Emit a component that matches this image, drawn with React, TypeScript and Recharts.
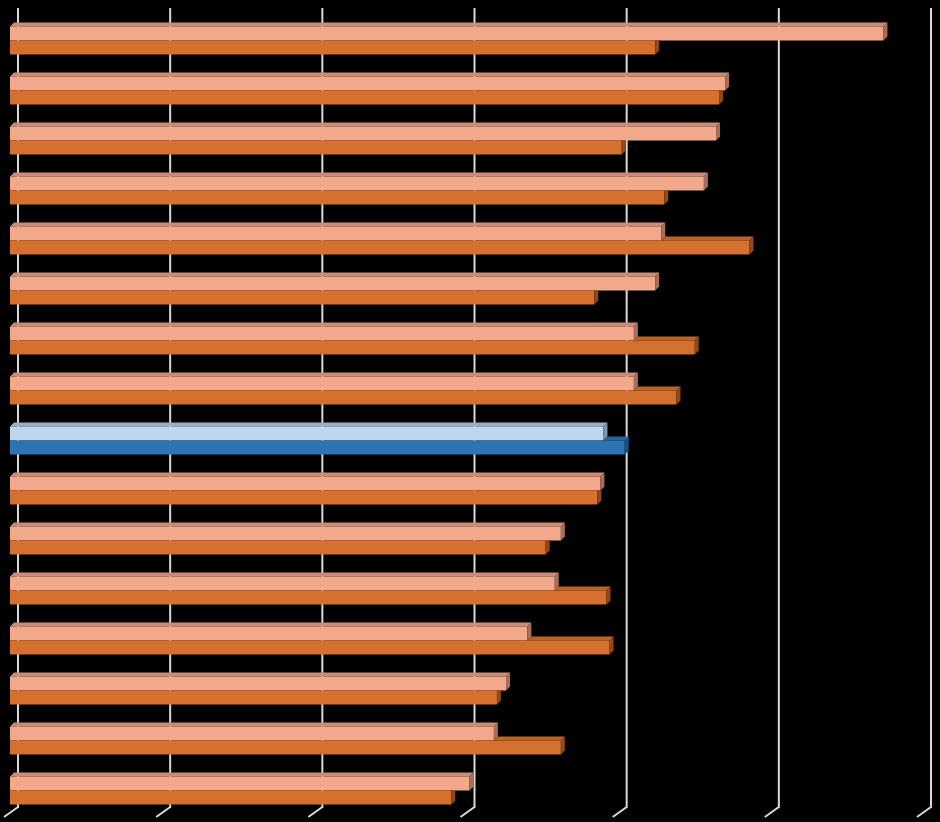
import { BarChart, Bar, XAxis, YAxis, CartesianGrid } from 'recharts'

const categories = [
  'A', 'B', 'C', 'D', 'E', 'F', 'G', 'H', 'I', 'J', 'K', 'L', 'M', 'N', 'O', 'P',
]
const lightValues = [28.7, 23.5, 23.2, 22.8, 21.4, 21.2, 20.5, 20.5, 19.5, 19.4, 18.1, 17.9, 17.0, 16.3, 15.9, 15.1]
const darkValues = [21.2, 23.3, 20.1, 21.5, 24.3, 19.2, 22.5, 21.9, 20.2, 19.3, 17.6, 19.6, 19.7, 16.0, 18.1, 14.5]
const highlighted = ['I']
const xTicks = [0, 5, 10, 15, 20, 25, 30]

const data = categories.map((name, i) => ({
  name,
  light: lightValues[i],
  dark: darkValues[i],
  hl: highlighted.includes(name),
}))

// front face is shifted off the back wall (3D depth)
const DX = -8
const DY = 7.5
const D = 4

const palette = {
  light: { front: '#F2A98B', top: '#C98E78', side: '#A8705C' },
  dark: { front: '#D5702E', top: '#B8652C', side: '#8F4A1C' },
  hlLight: { front: '#BDD7EE', top: '#9CAFC2', side: '#8194A6' },
  hlDark: { front: '#2E74B5', top: '#28659E', side: '#1D4F7E' },
}

function Bar3D(props: any) {
  const { x, y, width, height, payload, series } = props
  if (!width || width <= 0) return null
  const c = payload.hl
    ? series === 'light' ? palette.hlLight : palette.hlDark
    : series === 'light' ? palette.light : palette.dark
  const fx = x + DX
  const fy = y + DY
  const ex = fx + width
  let topStart = fx
  let sideTop = fy - D
  if (series === 'dark') {
    // the light bar above hides the top of this one where it overlaps
    const lw = payload.light * (width / payload.dark)
    topStart = fx + Math.min(lw, width)
    if (lw >= width) sideTop = fy
  }
  return (
    <g>
      {topStart < ex && (
        <polygon
          points={`${topStart},${fy} ${topStart + D},${fy - D} ${ex + D},${fy - D} ${ex},${fy}`}
          fill={c.top}
        />
      )}
      <rect x={fx} y={fy} width={width} height={height} fill={c.front} />
      <polygon
        points={`${ex},${fy} ${ex + D},${sideTop} ${ex + D},${fy - D + height} ${ex},${fy + height}`}
        fill={c.side}
      />
    </g>
  )
}

function FloorTick(props: any) {
  const { x, y } = props
  return <line x1={x} y1={y - 1} x2={x - 14} y2={y + 9} stroke="#D9D9D9" strokeWidth={2} />
}

export default function App() {
  return (
    <div style={{ position: 'absolute', left: 0, top: 0, width: 940, height: 822, background: '#000' }}>
      <BarChart
        width={940}
        height={822}
        data={data}
        layout="vertical"
        barSize={14}
        barGap={0}
        margin={{ top: 8, right: 9, left: 18, bottom: 0 }}
      >
        <CartesianGrid horizontal={false} stroke="#D9D9D9" strokeWidth={2} />
        <XAxis
          type="number"
          domain={[0, 30]}
          ticks={xTicks}
          axisLine={false}
          tickLine={false}
          tickSize={0}
          tickMargin={0}
          height={14}
          tick={<FloorTick />}
        />
        <YAxis type="category" dataKey="name" hide />
        <Bar dataKey="light" isAnimationActive={false} shape={(p: any) => <Bar3D {...p} series="light" />} />
        <Bar dataKey="dark" isAnimationActive={false} shape={(p: any) => <Bar3D {...p} series="dark" />} />
      </BarChart>
    </div>
  )
}
